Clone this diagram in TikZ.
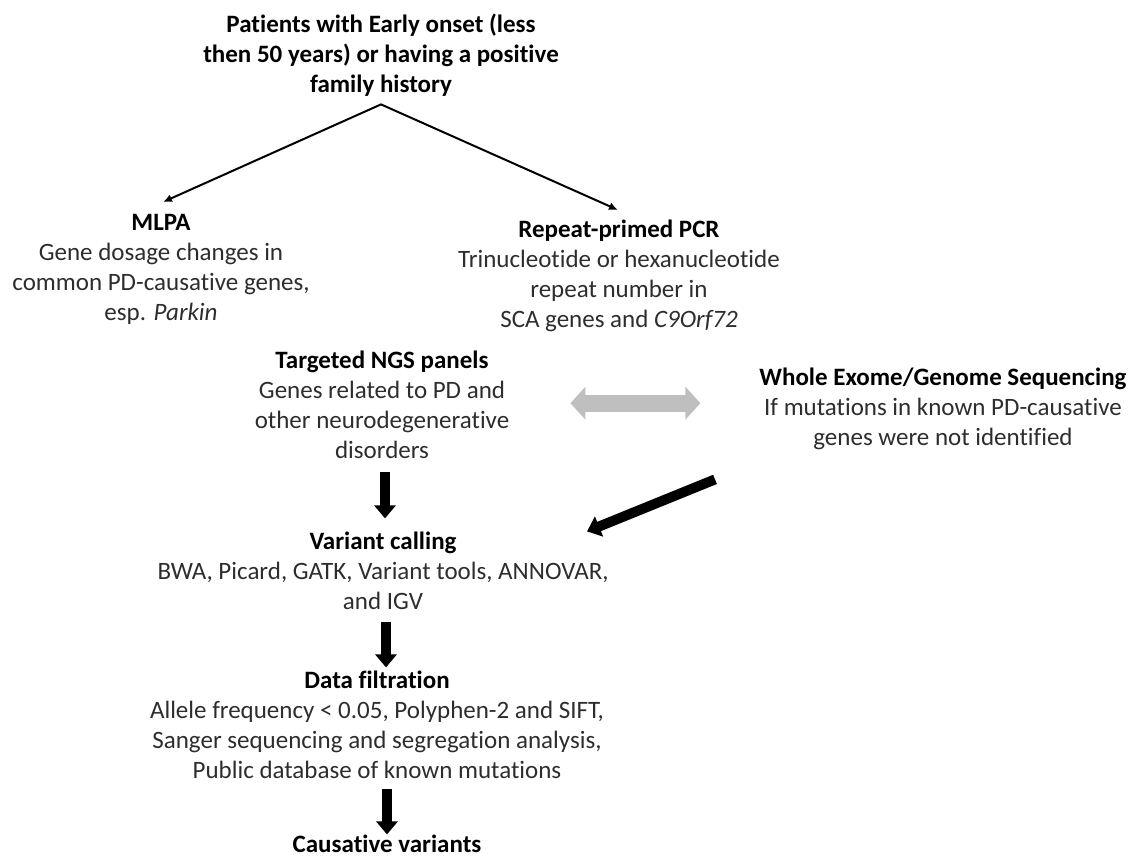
\documentclass[tikz,border=0pt]{standalone}
\usepackage{fontspec}
\setmainfont{Carlito}[Ligatures=CommonOff]
\usetikzlibrary{arrows.meta}
\definecolor{txtgray}{RGB}{45,45,45}
\definecolor{arrowgray}{RGB}{191,191,191}
\newcommand{\hd}[1]{\textcolor{black}{\textbf{#1}}}
\begin{document}
\begin{tikzpicture}[x=1pt,y=-1pt,
  blk/.style={align=center, inner sep=0pt, anchor=north, font=\fontsize{25}{30}\selectfont, text=txtgray},
  thinarrow/.style={draw=black, line width=2pt, line join=miter, {Latex[length=9pt,width=8pt]}-{Latex[length=9pt,width=8pt]}},
  fatarrow/.style={draw=black, line width=9.5pt, -{Triangle[length=13pt,width=21pt]}},
  dblarrow/.style={draw=arrowgray, line width=17pt, {Triangle[length=15pt,width=32pt]}-{Triangle[length=15pt,width=32pt]}}]
\useasboundingbox (0,0) rectangle (1134,858);

\node[blk] (top) at (381,11) {\strut\hd{Patients with Early onset (less}\\\hd{then 50 years) or having a positive}\\\hd{family history}\strut};
\node[blk] (mlpa) at (161,209) {\strut\hd{MLPA}\\Gene dosage changes in\\common PD-causative genes,\\esp. \textit{Parkin}\strut};
\node[blk] (pcr) at (619,216) {\strut\hd{Repeat-primed PCR}\\Trinucleotide or hexanucleotide\\repeat number in\\SCA genes and \textit{C9Orf72}\strut};
\node[blk] (ngs) at (382,347) {\strut\hd{Targeted NGS panels}\\Genes related to PD and\\other neurodegenerative\\disorders\strut};
\node[blk] (wes) at (943,364) {\strut\hd{Whole Exome/Genome Sequencing}\\If mutations in known PD-causative\\genes were not identified\strut};
\node[blk] (var) at (383,528) {\strut\hd{Variant calling}\\BWA, Picard, GATK, Variant tools, ANNOVAR,\\and IGV\strut};
\node[blk] (filt) at (377,667) {\strut\hd{Data filtration}\\Allele frequency < 0.05, Polyphen-2 and SIFT,\\Sanger sequencing and segregation analysis,\\Public database of known mutations\strut};
\node[blk] (caus) at (387,831) {\rule{0pt}{21pt}\hd{Causative variants}};

\coordinate (apex) at ([yshift=-3pt]top.south);
\draw[thinarrow] ([xshift=2pt,yshift=7pt]mlpa.north) -- (apex) -- ([xshift=-1pt,yshift=6pt]pcr.north);

\draw[fatarrow] (ngs.south) ++(3,5) -- ++(0,46);
\draw[fatarrow] (var.south) ++(3,4) -- ++(0,45);
\draw[fatarrow] (filt.south) ++(10,2) -- ++(0,45);
\draw[fatarrow, line width=10pt] (wes.south) ++(-228,25) -- ++(-128,52);
\draw[dblarrow] (ngs.east) ++(61,-4) -- ++(130,0);
\end{tikzpicture}
\end{document}
